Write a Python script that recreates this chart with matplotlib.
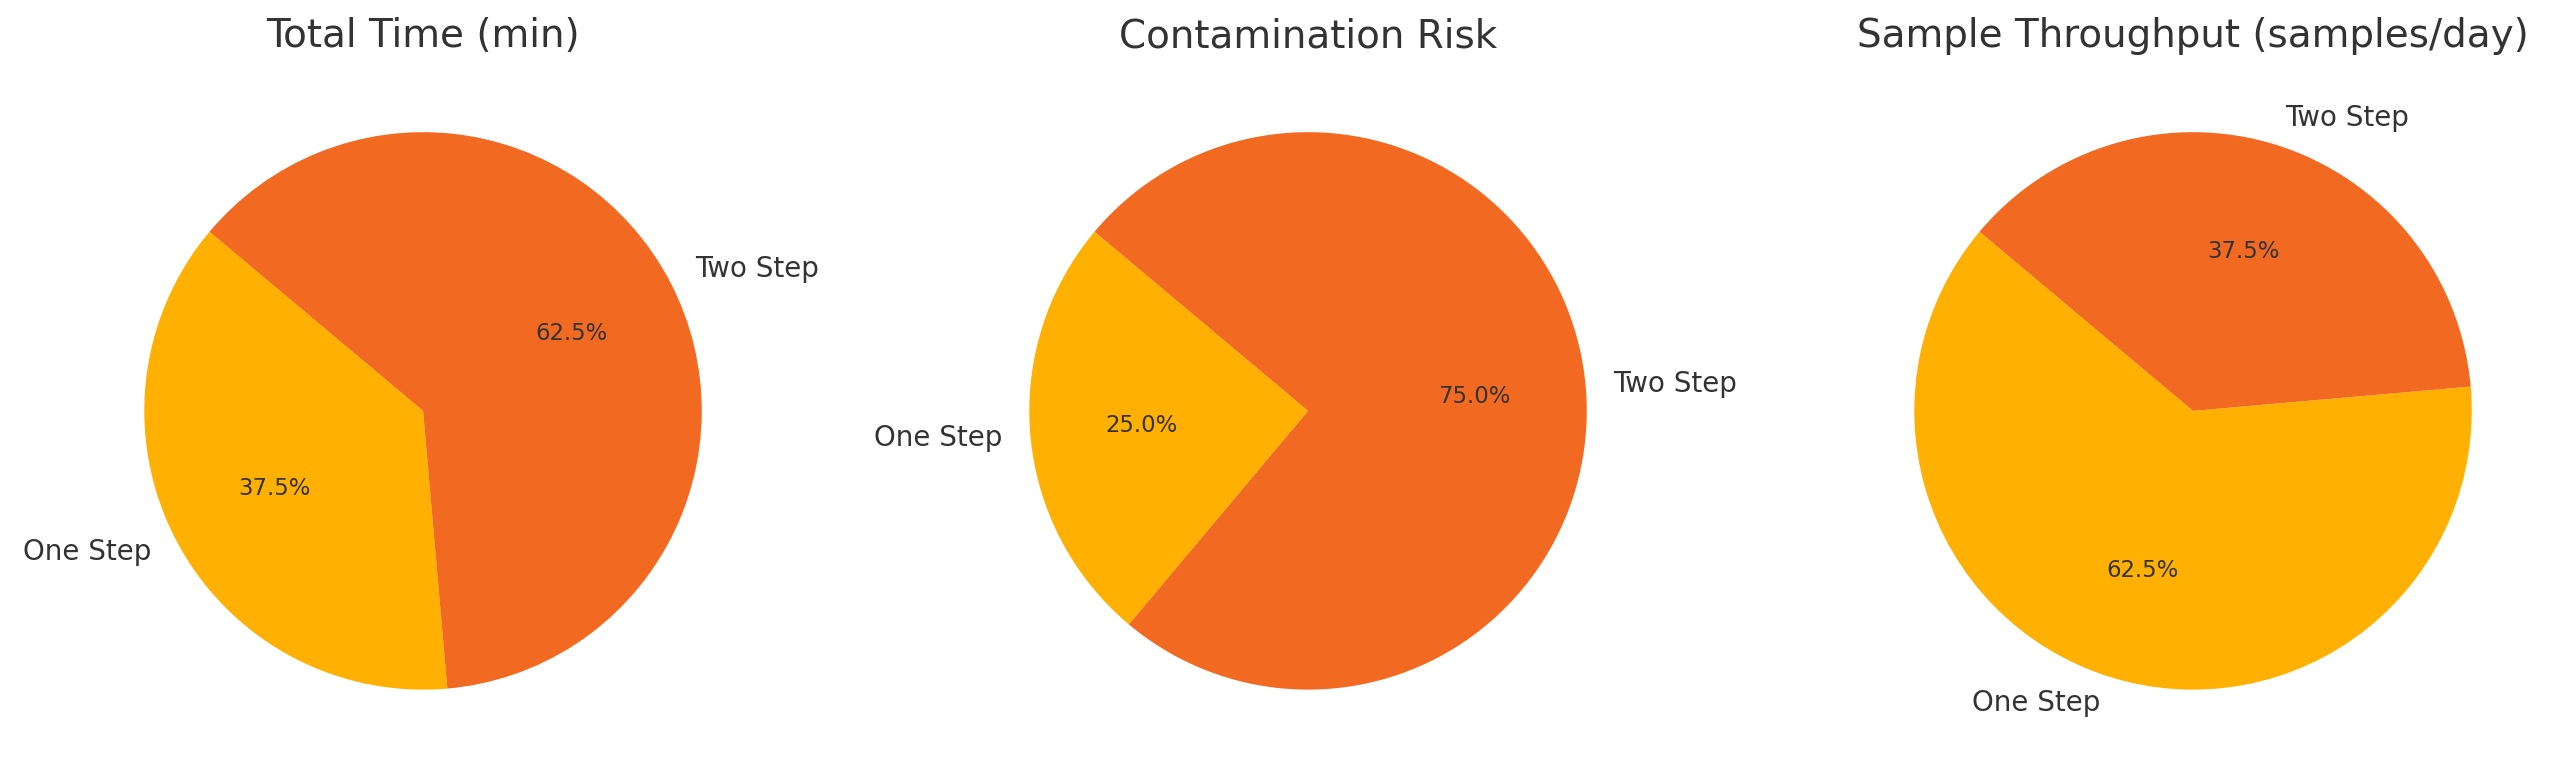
import numpy as np
import matplotlib
matplotlib.use('Agg')
import matplotlib.pyplot as plt

# categories and values for each panel
labels = ['One Step', 'Two Step']
titles = ['Total Time (min)', 'Contamination Risk', 'Sample Throughput (samples/day)']
total_time = [30, 50]
contamination = [1, 3]
throughput = [50, 30]

colors = ['#FFB000', '#F26A22']
TEXT = '#333333'

plt.rcParams['text.color'] = TEXT

fig = plt.figure(figsize=(12.8, 3.88), dpi=200)

lefts = [0.0291, 0.3748, 0.7205]
for left, title, vals in zip(lefts, titles, [total_time, contamination, throughput]):
    ax = fig.add_axes([left, 0.0215, 0.2723, 0.898])
    wedges, texts, autotexts = ax.pie(vals, labels=labels, colors=colors,
                                      autopct='%1.1f%%', startangle=140,
                                      textprops={'fontsize': 10, 'color': TEXT})
    for t in autotexts:
        t.set_fontsize(8.2)
    ax.set_title(title, fontsize=14, color=TEXT, pad=5.5)
    ax.set_xlim(-1.25, 1.25)
    ax.set_ylim(-1.25, 1.25)
    ax.set_aspect('equal')

fig.savefig('out.png', dpi=200)
